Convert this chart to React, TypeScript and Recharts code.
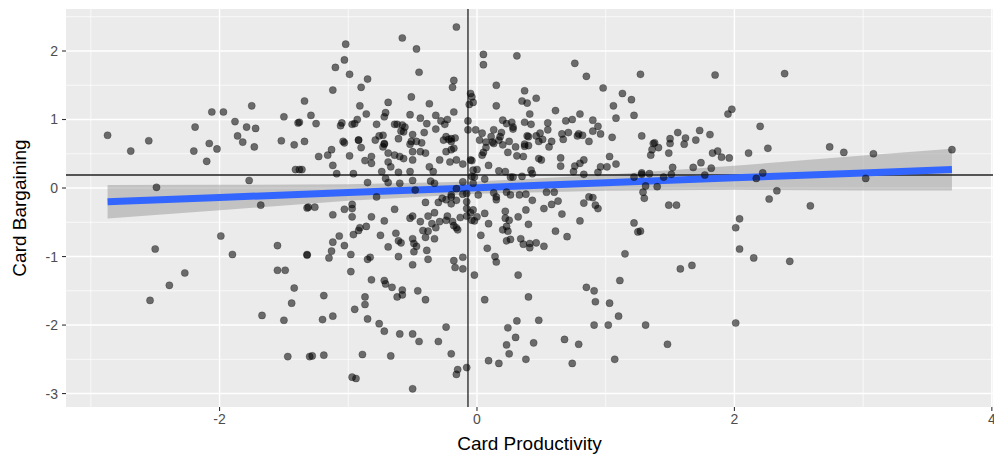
import React from 'react';
import { ComposedChart, Scatter, Line, Area, XAxis, YAxis, CartesianGrid, ReferenceLine, Label } from 'recharts';

const xTicks = [-2, 0, 2, 4];
const yTicks = [-3, -2, -1, 0, 1, 2];
const xMinor = [-3, -1, 1, 3];
const yMinor = [-2.5, -1.5, -0.5, 0.5, 1.5, 2.5];
const meanProductivity = -0.07;
const meanBargaining = 0.19;

const smoothX = [-2.87, -2, -1, 0, 1, 2, 3, 3.69];
const smoothFit = [-0.2, -0.138, -0.066, 0.005, 0.077, 0.149, 0.22, 0.27];
const smoothLow = [-0.445, -0.323, -0.186, -0.085, -0.038, -0.026, -0.035, -0.035];
const smoothHigh = [0.045, 0.047, 0.054, 0.095, 0.192, 0.324, 0.475, 0.575];

const points: [number, number][] = [
  [-0.16,2.35],[-0.58,2.19],[-1.02,2.10],[-0.47,2.03],[-1.03,1.87],[-1.10,1.76],[-0.99,1.66],[-0.45,1.69],[-0.85,1.59],[-0.90,1.47],[-0.18,1.57],[-0.19,1.47],[-1.12,1.43],[-0.51,1.33],[-1.34,1.27],[-0.69,1.25],[-0.37,1.23],
  [-0.05,1.38],[-0.04,1.33],[-0.06,1.22],[-0.03,1.25],
  [-0.91,1.20],[-1.29,1.06],[-0.86,1.08],[-0.71,1.10],[-0.72,1.04],[-0.52,1.07],[-0.44,1.02],[-0.32,1.06],[-0.18,1.11],
  [-1.38,0.96],[-1.25,0.94],[-1.05,0.95],[-1.06,0.91],[-0.97,0.93],[-0.95,0.94],[-0.93,1.00],[-0.78,0.93],
  [-0.64,0.93],[-0.62,0.93],[-0.58,0.92],[-0.56,0.89],[-0.59,0.83],[-0.57,0.82],
  [-0.39,0.94],[-0.28,0.98],[-0.25,0.93],[-0.23,1.00],[-0.32,0.86],[-0.41,0.81],[-0.50,0.78],
  [-0.07,0.98],[-0.07,0.85],[-0.01,0.85],
  [-1.75,1.20],[-2.06,1.11],[-1.97,1.11],[-2.19,0.89],[-1.88,0.97],[-1.79,0.89],[-1.72,0.87],[-1.86,0.76],[-1.50,1.04],[-1.39,0.95],[-2.87,0.77],[-2.55,0.69],[-2.08,0.65],[-1.82,0.67],[-1.52,0.69],[-1.42,0.63],[-1.34,0.68],[-1.73,0.60],
  [-2.69,0.54],[-2.20,0.54],[-2.02,0.57],[-2.10,0.39],[-1.41,0.27],[-1.36,0.27],[-1.77,0.11],[-2.49,0.01],[-1.68,-0.25],[-1.32,-0.29],[-1.99,-0.70],[-2.50,-0.89],[-1.90,-0.97],[-1.55,-0.84],[-1.32,-0.98],[-2.27,-1.24],[-1.55,-1.20],[-1.49,-1.20],
  [-2.39,-1.42],[-2.54,-1.64],[-1.42,-1.46],[-1.44,-1.68],[-1.67,-1.86],[-1.50,-1.93],[-1.47,-2.46],[-1.30,-2.46],
  [-0.82,-1.34],[-0.72,-1.35],[-0.71,-1.40],[-0.66,-1.45],[-0.58,-1.49],[-0.58,-1.56],[-0.62,-1.59],[-0.46,-1.50],[-0.40,-1.63],[-1.19,-1.57],[-0.87,-1.59],[-0.87,-1.70],[-0.95,-1.77],[-1.12,-1.87],[-1.20,-1.92],[-0.85,-1.91],[-0.76,-1.98],[-0.72,-2.09],[-0.60,-2.13],[-0.50,-2.13],[-0.45,-2.24],[-0.30,-2.24],[-0.24,-2.03],[-0.02,-1.27],[-1.28,-2.45],[-1.19,-2.44],[-0.89,-2.43],[-0.67,-2.45],[-0.20,-2.42],[-0.15,-2.65],[-0.16,-2.72],[-0.08,-2.62],[-0.97,-2.76],[-0.94,-2.78],[-0.50,-2.93],
  [0.32,-1.27],[1.11,-1.35],[0.85,-1.45],[0.91,-1.50],[0.92,-1.66],[1.03,-1.68],[1.10,-1.87],[0.06,-1.63],[0.40,-1.59],[0.31,-1.94],[0.48,-1.93],[0.24,-2.04],[0.30,-2.18],[0.23,-2.29],[0.44,-2.26],[0.25,-2.42],[0.09,-2.52],[0.17,-2.56],[0.38,-2.50],[0.68,-2.21],[0.79,-2.28],[0.74,-2.56],[0.91,-2.00],[1.02,-2.00],[1.07,-2.50],[1.31,-2.00],
  [1.48,-2.28],[2.01,-1.97],
  [3.69,0.56],[3.08,0.50],[2.85,0.52],[2.74,0.60],[2.26,0.58],[2.11,0.51],[1.96,0.44],[1.90,0.45],[1.87,0.54],[1.83,0.51],[1.74,0.37],[1.68,0.30],[1.82,0.29],[1.77,0.19],[1.52,0.30],[1.51,0.20],[1.45,0.16],[1.28,0.22],[1.31,0.03],[1.40,0.02],[1.29,-0.06],[1.30,-0.15],[1.49,-0.25],[1.55,-0.25],[1.27,-0.63],[2.17,0.14],[2.22,0.22],[2.33,-0.04],[2.27,-0.16],[2.59,-0.26],[3.02,0.14],[2.04,-0.45],[2.01,-0.58],[2.04,-0.89],[2.15,-1.02],[2.43,-1.07],[1.58,-1.18],[1.67,-1.13],
  [1.37,0.65],[1.36,0.56],[1.41,0.59],[1.35,0.48],[1.50,0.65],[1.61,0.64],[1.70,0.70],[1.49,0.51],
  [2.39,1.67],[1.85,1.65],[1.27,1.66],[1.98,1.15],[1.95,1.08],[2.20,0.90],[1.28,0.76],[1.38,0.66],[1.50,0.72],[1.56,0.81],[1.62,0.73],[1.73,0.84],[1.81,0.78],
  [0.05,1.95],[0.05,1.80],[0.31,1.93],[0.76,1.82],[0.85,1.63],[0.98,1.46],[0.15,1.50],[0.37,1.42],[0.46,1.31],[0.35,1.27],[0.39,1.24],[1.13,1.38],[1.20,1.29],[1.06,1.20],[1.08,1.02],[1.22,1.06],[0.15,1.20],[0.61,1.13],[0.41,1.08],[0.80,1.08],[0.69,0.98],[0.74,1.00],[0.90,0.99],[0.94,0.90],[0.55,0.95],[0.37,0.96],[0.42,0.93],[0.20,0.99],[0.23,0.94],[0.27,0.96],[0.28,0.89],[0.28,0.86],[0.04,0.80],[0.11,0.75],[0.13,0.85],[0.19,0.81],[0.18,0.75],[0.55,0.85],[0.39,0.76],[0.46,0.76],[0.49,0.80],[0.66,0.79],[0.71,0.81],[0.79,0.79],[0.82,0.77],[0.78,0.76],[0.90,0.83],[0.96,0.79],[1.05,0.74],
  [0.02,0.70],[0.07,0.67],[0.12,0.67],[0.17,0.70],[0.25,0.68],[0.37,0.64],[0.40,0.75],[0.48,0.68],[0.51,0.71],[0.58,0.68],[0.67,0.71],[0.87,0.68],
  [0.07,0.59],[0.04,0.48],[0.05,0.52],[0.13,0.65],[0.20,0.63],[0.24,0.52],[0.30,0.60],[0.31,0.47],[0.36,0.46],[0.37,0.61],[0.40,0.62],[0.50,0.41],[0.48,0.43],[0.56,0.60],[0.65,0.44],[0.65,0.32],[0.83,0.41],[0.76,0.32],[0.80,0.36],[0.75,0.24],[0.83,0.20],[0.94,0.23],[0.96,0.31],[1.01,0.31],[1.03,0.46],[1.08,0.35],[1.22,0.16],[1.28,0.20],[1.34,0.21],[1.22,-0.51],[1.25,-0.64],[1.15,-0.96],
  [-0.04,0.40],[0.00,0.27],[-0.02,0.16],[0.06,0.13],[0.09,0.33],[0.17,0.25],[0.22,0.24],[0.26,0.16],[0.28,0.16],[0.35,0.17],[0.42,0.26],[0.43,0.21],
  [0.01,-0.10],[0.13,-0.07],[0.15,-0.17],[0.15,-0.13],[0.23,-0.06],[0.26,-0.10],[0.33,-0.10],[0.38,-0.09],[0.43,-0.18],[0.52,-0.30],[0.58,-0.24],[0.63,-0.19],[0.54,-0.06],[0.60,-0.06],[0.83,-0.22],[0.87,-0.13],[0.90,-0.14],[0.94,-0.30],[0.92,-0.25],[0.66,-0.38],[0.80,-0.48],
  [-0.03,-0.32],[0.00,-0.42],[-0.04,-0.47],[0.06,-0.37],[0.09,-0.52],[0.22,-0.34],[0.22,-0.44],[0.25,-0.47],[0.23,-0.56],[0.20,-0.61],[0.24,-0.63],[0.26,-0.75],[0.23,-0.77],[0.32,-0.42],[0.38,-0.32],[0.40,-0.53],[0.03,-0.69],[0.08,-0.88],[0.14,-1.00],[0.15,-1.08],[0.34,-0.74],[0.36,-0.82],[0.41,-0.81],[0.41,-0.87],[0.46,-0.80],[0.52,-0.85],[0.61,-0.63],[0.70,-0.71],
  [-1.38,0.27],[-1.31,-0.28],[-1.26,-0.28],[-1.12,-0.39],[-1.03,-0.31],[-0.97,-0.24],[-0.97,-0.30],[-0.97,-0.42],[-0.82,-0.42],[-0.72,-0.48],[-0.64,-0.31],[-0.52,-0.44],[-0.50,-0.41],[-0.86,-0.56],[-0.91,-0.58],[-0.92,-0.62],[-0.96,-0.68],[-1.07,-0.70],[-1.12,-0.79],[-1.03,-0.84],[-1.13,-0.92],[-1.15,-1.02],[-1.32,-0.97],[-0.98,-0.97],[-0.98,-1.22],[-0.75,-0.69],[-0.69,-0.86],[-0.63,-0.66],[-0.61,-0.77],[-0.59,-0.80],[-0.50,-0.74],[-0.49,-0.81],[-0.47,-0.85],[-0.49,-0.93],[-0.61,-1.00],[-0.85,-1.04],[-0.83,-1.01],[-0.50,-1.12],[-0.38,-1.04],[-0.39,-0.91],
  [-0.42,-0.62],[-0.38,-0.63],[-0.40,-0.72],[-0.33,-0.74],[-0.32,-0.58],[-0.35,-0.52],[-0.44,-0.49],[-0.38,-0.41],[-0.33,-0.36],
  [-0.29,-0.49],[-0.24,-0.47],[-0.19,-0.49],[-0.18,-0.55],[-0.16,-0.58],[-0.15,-0.61],[-0.23,-0.41],[-0.13,-0.43],[-0.08,-0.41],[-0.05,-0.36],[-0.02,-0.48],[-0.08,-0.30],
  [-0.40,-0.21],[-0.30,-0.21],[-0.27,-0.15],[-0.24,-0.17],[-0.20,-0.13],[-0.16,-0.18],[-0.11,-0.09],[-0.20,-0.23],[-0.08,-0.20],
  [-0.18,-1.06],[-0.17,-1.16],[-0.11,-1.18],[-0.11,-1.01],
  [-1.23,0.46],[-1.16,0.48],[-1.13,0.56],[-1.12,0.33],[-1.09,0.21],[-1.03,0.66],[-0.99,0.47],[-0.96,0.21],[-0.92,0.70],[-0.90,0.59],[-0.87,0.40],[-0.82,0.36],[-0.82,0.46],[-0.85,0.08],[-0.78,-0.13],[-0.74,0.24],[-0.71,0.14],[-0.69,0.08],
  [-0.73,0.60],[-0.72,0.64],[-0.69,0.51],[-0.69,0.38],[-0.67,0.31],[-0.64,0.48],[-0.60,0.46],[-0.57,0.43],[-0.61,0.23],[-0.60,0.07],
  [-0.52,0.24],[-0.50,0.41],[-0.50,0.11],[-0.48,-0.03],[-0.52,0.64],[-0.50,0.53],[-0.44,0.53],[-0.40,0.51],[-0.43,0.66],
  [-0.37,0.31],[-0.34,0.24],[-0.36,0.10],[-0.33,0.07],
  [-0.29,0.41],[-0.24,0.53],[-0.20,0.56],[-0.21,0.38],[-0.16,0.41],[-0.11,0.35],[-0.05,0.41],[-0.03,0.26],[-0.04,0.17],[-0.11,0.09],[-0.16,-0.01],[-0.20,-0.10],[-0.08,-0.08],[-0.03,0.07],
  [-0.26,0.70],[-0.20,0.68],[-0.18,0.58],
  [-1.04,0.68],[-0.92,0.70],[-0.79,0.70],[-0.76,0.76],[-0.73,0.77],[-0.72,0.65],[-0.61,0.72],[-0.51,0.68],[-0.47,0.68],[-0.24,0.75],[-0.22,0.71],[-0.20,0.72],[-0.17,0.73],
];

const FONT = '"Liberation Sans", Arial, Helvetica, sans-serif';

const Dot = (props: any) => (
  <circle cx={props.cx} cy={props.cy} r={3.6} fill="#000" fillOpacity={0.55} stroke="#000" strokeOpacity={0.3} strokeWidth={0.8} />
);

export default function App() {
  const scatterData = points.map(([x, y]) => ({ x, y }));
  const smoothData = smoothX.map((x, i) => ({ x, fit: smoothFit[i], band: [smoothLow[i], smoothHigh[i]] }));
  return (
    <div style={{ position: 'absolute', left: 0, top: 0, width: 994, height: 457, background: '#fff', fontFamily: FONT }}>
      <ComposedChart width={994} height={457} margin={{ top: 9, right: 1, bottom: 0, left: 0 }}>
        <CartesianGrid fill="#EBEBEB" fillOpacity={1} stroke="#FFFFFF" strokeWidth={0.7} verticalValues={xMinor} horizontalValues={yMinor} />
        <CartesianGrid stroke="#FFFFFF" strokeWidth={1.4} verticalValues={xTicks} horizontalValues={yTicks} />
        <XAxis type="number" dataKey="x" domain={[-3.193, 4.009]} ticks={xTicks} interval={0} allowDataOverflow
          axisLine={false} tickLine={{ stroke: '#333333', strokeWidth: 1.1 }} tickSize={4} tickMargin={3} height={50}
          tick={{ fill: '#4D4D4D', fontSize: 14, fontFamily: FONT }}>
          <Label content={(p: any) => {
            const vb = p.viewBox || {};
            return <text x={vb.x + vb.width / 2} y={vb.y + 43} textAnchor="middle" fontSize={19} fill="#000" fontFamily={FONT}>Card Productivity</text>;
          }} />
        </XAxis>
        <YAxis type="number" dataKey="y" domain={[-3.196, 2.613]} ticks={yTicks} interval={0} allowDataOverflow width={66}
          axisLine={false} tickLine={{ stroke: '#333333', strokeWidth: 1.1 }} tickSize={4} tickMargin={4}
          tick={{ fill: '#4D4D4D', fontSize: 14, fontFamily: FONT }}>
          <Label content={(p: any) => {
            const vb = p.viewBox || {};
            const cx = vb.x + 26;
            const cy = vb.y + vb.height / 2;
            return <text x={cx} y={cy} transform={`rotate(-90 ${cx} ${cy})`} textAnchor="middle" fontSize={19} fill="#000" fontFamily={FONT}>Card Bargaining</text>;
          }} />
        </YAxis>
        <Scatter data={scatterData} dataKey="y" shape={Dot} isAnimationActive={false} />
        <ReferenceLine x={meanProductivity} stroke="#222" strokeWidth={1.3} />
        <ReferenceLine y={meanBargaining} stroke="#222" strokeWidth={1.3} />
        <Area data={smoothData} dataKey="band" type="linear" stroke="none" fill="#999999" fillOpacity={0.5} isAnimationActive={false} />
        <Line data={smoothData} dataKey="fit" type="linear" stroke="#3366FF" strokeWidth={7} dot={false} isAnimationActive={false} />
      </ComposedChart>
    </div>
  );
}
